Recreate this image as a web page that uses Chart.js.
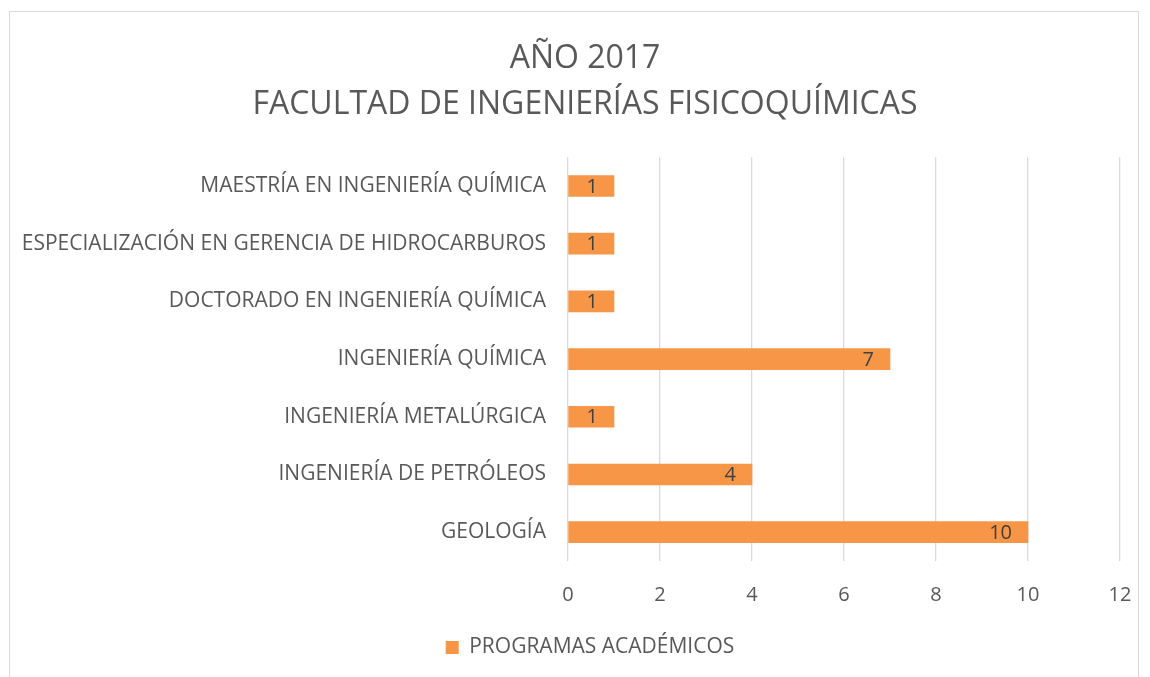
<!DOCTYPE html>
<html>
<head>
<meta charset="utf-8">
<script src="https://cdn.jsdelivr.net/npm/chart.js@4"></script>
<style>
  html, body { margin: 0; padding: 0; background: #fff; }
  #wrap { position: relative; width: 1150px; height: 677px; overflow: hidden; }
  #frame { position: absolute; left: 9px; top: 11px; width: 1130px; height: 700px; border: 1px solid #d9d9d9; box-sizing: border-box; }
  canvas { position: absolute; left: 0; top: 0; }
</style>
</head>
<body>
<div id="wrap">
  <div id="frame"></div>
  <canvas id="chart" width="1150" height="677"></canvas>
</div>
<script>
// categories listed top to bottom, as in the picture
const programas = [
  'MAESTRÍA EN INGENIERÍA QUÍMICA',
  'ESPECIALIZACIÓN EN GERENCIA DE HIDROCARBUROS',
  'DOCTORADO EN INGENIERÍA QUÍMICA',
  'INGENIERÍA QUÍMICA',
  'INGENIERÍA METALÚRGICA',
  'INGENIERÍA DE PETRÓLEOS',
  'GEOLOGÍA'
];
const cantidad = [1, 1, 1, 7, 1, 4, 10];
const serieNombre = 'PROGRAMAS ACADÉMICOS';
const titulo = ['AÑO 2017', 'FACULTAD DE INGENIERÍAS FISICOQUÍMICAS'];

const FONT = "'Open Sans', 'Noto Sans', sans-serif";

// draws the value inside the end of each bar
const valueLabels = {
  id: 'valueLabels',
  afterDatasetsDraw(chart) {
    const ctx = chart.ctx;
    const meta = chart.getDatasetMeta(0);
    ctx.save();
    ctx.font = '20px ' + FONT;
    ctx.fillStyle = '#404040';
    ctx.textAlign = 'right';
    ctx.textBaseline = 'middle';
    meta.data.forEach((bar, i) => {
      ctx.fillText(String(cantidad[i]), bar.x - 16, bar.y + 1);
    });
    ctx.restore();
  }
};

// title and legend sit a bit right of the canvas centre in the original
const shiftBlocks = {
  id: 'shiftBlocks',
  afterLayout(chart) {
    chart.titleBlock.left += 50;
    chart.legend.left += 60;
  }
};

new Chart(document.getElementById('chart'), {
  type: 'bar',
  data: {
    labels: programas,
    datasets: [{
      label: serieNombre,
      data: cantidad,
      backgroundColor: '#F79646',
      borderWidth: 0,
      barThickness: 21
    }]
  },
  options: {
    indexAxis: 'y',
    responsive: false,
    animation: false,
    layout: { padding: { top: 36, right: 30, bottom: 9, left: 0 } },
    plugins: {
      title: {
        display: true,
        text: titulo,
        color: '#595959',
        font: { family: FONT, size: 32, weight: 'normal', lineHeight: 1.44 },
        padding: { top: 0, bottom: 29 }
      },
      legend: {
        position: 'bottom',
        labels: {
          color: '#595959',
          font: { family: FONT, size: 21 },
          boxWidth: 13,
          boxHeight: 13,
          padding: 10
        }
      },
      tooltip: { enabled: false }
    },
    scales: {
      x: {
        min: 0,
        max: 12,
        ticks: { stepSize: 2, color: '#595959', font: { family: FONT, size: 20 }, padding: 22 },
        grid: { color: '#d9d9d9', lineWidth: 1.3, drawTicks: false },
        border: { display: false },
        afterFit(scale) {
          scale.height = 66;
          scale.paddingLeft = 0;
          scale.paddingRight = 0;
        }
      },
      y: {
        ticks: { color: '#595959', font: { family: FONT, size: 21 }, padding: 22 },
        grid: { display: false, drawTicks: false },
        border: { display: false },
        afterFit(scale) { scale.width = 568; }
      }
    }
  },
  plugins: [valueLabels, shiftBlocks]
});
</script>
</body>
</html>
